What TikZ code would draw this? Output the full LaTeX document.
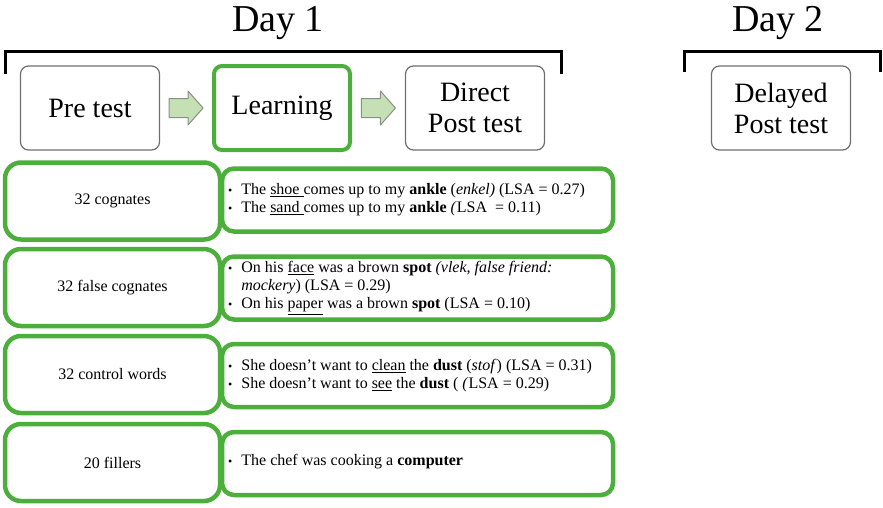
\documentclass[tikz,border=0pt]{standalone}
\usepackage{fontspec}
\setmainfont{Liberation Serif}
\usepackage{tikz}
\usetikzlibrary{calc}
\definecolor{boxgreen}{RGB}{76,175,60}
\definecolor{boxgray}{RGB}{110,110,110}
\definecolor{arrowfill}{RGB}{198,224,182}
\definecolor{arrowline}{RGB}{135,145,135}
\newcommand{\stagearrow}[1]{
    \draw[draw=arrowline, fill=arrowfill, line width=1pt, line join=round] (#1) ++(-17,-9.5) -- ++(19,0) -- ++(0,-7.5) -- ++(15,17) -- ++(-15,17) -- ++(0,-7.5) -- ++(-19,0) -- cycle;
}
\newcommand{\itemdot}{\raisebox{0.5pt}{\fontsize{12}{12}\selectfont\textbullet}\hspace{9pt}}

\begin{document}
\begin{tikzpicture}[x=1pt, y=-1pt,
        stage/.style={draw=boxgray, line width=1.2pt, rounded corners=8pt, minimum width=139pt, minimum height=84pt, inner sep=0pt, align=center, font=\fontsize{28}{31}\selectfont},
        learnbox/.style={stage, draw=boxgreen, line width=4pt, minimum width=136pt},
        itembox/.style={draw=boxgreen, fill=white, line width=4.5pt, rounded corners=16pt, minimum width=215pt, minimum height=77pt, inner sep=0pt, font=\fontsize{16}{18.5}\selectfont},
        examplebox/.style={draw=boxgreen, fill=white, line width=4.5pt, rounded corners=12pt, minimum width=391pt, minimum height=63pt, inner sep=0pt},
        sentences/.style={anchor=west, align=left, inner sep=0pt, font=\fontsize{16}{18}\selectfont},
        daylabel/.style={anchor=base, inner sep=0pt, font=\fontsize{38}{40}\selectfont},
        bracket/.style={line width=3pt}]
        \useasboundingbox (0,0) rectangle (883,507);
        \node[daylabel] (day1) at (278,31) {Day 1};
        \node[daylabel] (day2) at (778,31) {Day 2};
        \draw[bracket] (5,74) -- (5,51) -- (561,51) -- (561,74);
        \draw[bracket] (684,72) -- (684,51) -- (880,51) -- (880,72);
        \node[stage] (pre) at (90,108) {Pre test};
        \node[learnbox] (learn) at (282,108) {Learning};
        \node[stage] (direct) at (475,108) {Direct\\Post test};
        \node[stage] (delayed) at (781,108) {Delayed\\Post test};
        \coordinate (a1) at ($(pre.east)!0.5!(learn.west)$);
        \coordinate (a2) at ($(learn.east)!0.5!(direct.west)$);
        \stagearrow{a1}
        \stagearrow{a2}
        \node[examplebox] (e1) at (417.5,200) {};
        \node[examplebox] (e2) at (417.5,288) {};
        \node[examplebox] (e3) at (417.5,375.5) {};
        \node[examplebox] (e4) at (417.5,463.5) {};
        \node[itembox] (c1) at (112.5,201) {32 cognates};
        \node[itembox] (c2) at (112.5,287.5) {32 false cognates};
        \node[itembox] (c3) at (112.5,374.5) {32 control words};
        \node[itembox] (c4) at (112.5,462.5) {20 fillers};
        \node[sentences] (s1) at (228,200) {\itemdot The \underline{shoe\ }comes up to my \textbf{ankle} (\textit{enkel)} (LSA = 0.27)\\
            \itemdot The \underline{sand\ }comes up to my \textbf{ankle} \textit{(}LSA \ = 0.11)};
        \node[sentences] (s2) at (228,288) {\itemdot On his \underline{face} was a brown \textbf{spot} \textit{(vlek, false friend:}\\
            \hspace{13.2pt}\textit{mockery}) (LSA = 0.29)\\
            \itemdot On his \underline{paper} was a brown \textbf{spot} (LSA = 0.10)};
        \node[sentences] (s3) at (228,376) {\itemdot She doesn’t want to \underline{clean} the \textbf{dust} (\textit{stof}) (LSA = 0.31)\\
            \itemdot She doesn’t want to \underline{see} the \textbf{dust} ( \textit{(}LSA = 0.29)};
        \node[sentences] (s4) at (228,462) {\itemdot The chef was cooking a \textbf{computer}};
\end{tikzpicture}
\end{document}
